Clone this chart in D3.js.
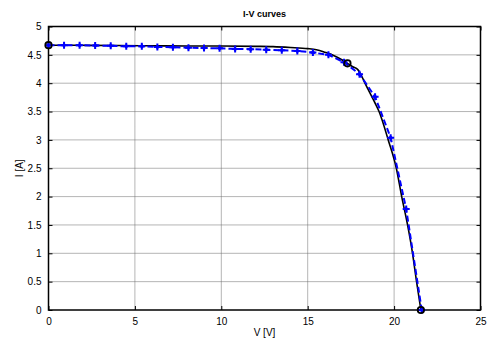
<!DOCTYPE html>
<html>
<head>
<meta charset="utf-8">
<script src="https://cdn.jsdelivr.net/npm/d3@7"></script>
<style>
  body { margin: 0; background: #fff; }
  svg { display: block; font-family: "Liberation Sans", Arial, sans-serif; }
</style>
</head>
<body>
<svg id="chart" width="487" height="340"></svg>
<script>
// measured (blue, dashed with markers)
const measV = [0, 0.9, 1.8, 2.7, 3.6, 4.5, 5.4, 6.3, 7.2, 8.1, 9.0, 9.9, 10.8, 11.7, 12.6, 13.5, 14.4, 15.3, 16.2, 17.1, 18.0, 18.9, 19.8, 20.7, 21.6]
const measI = [4.67, 4.67, 4.67, 4.665, 4.66, 4.65, 4.65, 4.64, 4.635, 4.625, 4.62, 4.615, 4.605, 4.60, 4.59, 4.58, 4.57, 4.54, 4.50, 4.37, 4.16, 3.76, 3.04, 1.78, 0]

// model curve (black, solid)
const modelV = [0, 2, 4, 6, 8, 10, 12, 13, 14, 15, 15.5, 16, 16.5, 17, 17.3, 17.6, 17.9, 18.1, 18.35, 18.85, 19.13, 19.66, 20.13, 20.44, 20.78, 21.04, 21.3, 21.55]
const modelI = [4.67, 4.668, 4.665, 4.66, 4.655, 4.655, 4.65, 4.645, 4.63, 4.61, 4.59, 4.545, 4.49, 4.41, 4.35, 4.29, 4.24, 4.14, 3.98, 3.68, 3.5, 3.0, 2.5, 2.0, 1.5, 1.05, 0.5, 0]

// key points (open circles): Isc, MPP, Voc
const keyV = [0, 17.3, 21.55]
const keyI = [4.67, 4.35, 0]

const xTicks = [0, 5, 10, 15, 20, 25]
const yTicks = [0, 0.5, 1, 1.5, 2, 2.5, 3, 3.5, 4, 4.5, 5]

const svg = d3.select("#chart")
const m = { left: 48.5, top: 26.5, right: 487 - 480.5, bottom: 340 - 310 }
const w = 487 - m.left - m.right
const h = 340 - m.top - m.bottom

const x = d3.scaleLinear().domain([0, 25]).range([0, w])
const y = d3.scaleLinear().domain([0, 5]).range([h, 0])

const g = svg.append("g").attr("transform", "translate(" + [m.left, m.top] + ")")

// grid
g.append("g").selectAll("line").data(xTicks.slice(1, -1)).enter().append("line")
  .attr("x1", d => x(d)).attr("x2", d => x(d)).attr("y1", 0).attr("y2", h)
  .attr("stroke", "#6a6a6a").attr("stroke-width", 1).attr("stroke-dasharray", "1,1")
g.append("g").selectAll("line").data(yTicks.slice(1, -1)).enter().append("line")
  .attr("y1", d => y(d)).attr("y2", d => y(d)).attr("x1", 0).attr("x2", w)
  .attr("stroke", "#6a6a6a").attr("stroke-width", 1).attr("stroke-dasharray", "1,1")

// axes (ticks inward, mirrored)
function styleAxis(sel) {
  sel.select(".domain").remove()
  sel.selectAll(".tick line").attr("stroke", "#000")
  sel.selectAll(".tick text").attr("fill", "#000").style("font-size", "10px")
}
g.append("g").attr("transform", "translate(0," + h + ")")
  .call(d3.axisBottom(x).tickValues(xTicks).tickSizeInner(-4).tickSizeOuter(0).tickPadding(8))
  .call(styleAxis)
g.append("g")
  .call(d3.axisLeft(y).tickValues(yTicks).tickSizeInner(-4).tickSizeOuter(0).tickPadding(7).tickFormat(d3.format("")))
  .call(styleAxis)
g.append("g")
  .call(d3.axisTop(x).tickValues(xTicks).tickSizeInner(-4).tickSizeOuter(0).tickFormat(""))
  .call(styleAxis)
g.append("g").attr("transform", "translate(" + w + ",0)")
  .call(d3.axisRight(y).tickValues(yTicks).tickSizeInner(-4).tickSizeOuter(0).tickFormat(""))
  .call(styleAxis)

g.append("rect").attr("width", w).attr("height", h)
  .attr("fill", "none").attr("stroke", "#000").attr("stroke-width", 1.5)

// model curve
const model = modelV.map((v, i) => ({ v: v, i: modelI[i] }))
g.append("path").datum(model)
  .attr("fill", "none").attr("stroke", "#000").attr("stroke-width", 1.6)
  .attr("d", d3.line().x(d => x(d.v)).y(d => y(d.i)).curve(d3.curveMonotoneX))

// measured
const meas = measV.map((v, i) => ({ v: v, i: measI[i] }))
g.append("path").datum(meas)
  .attr("fill", "none").attr("stroke", "#0000ff").attr("stroke-width", 2)
  .attr("stroke-dasharray", "6,3")
  .attr("d", d3.line().x(d => x(d.v)).y(d => y(d.i)))

const mk = g.append("g").selectAll("g").data(meas).enter().append("g")
  .attr("transform", d => "translate(" + [x(d.v), y(d.i)] + ")")
mk.append("path").attr("d", "M-3.5,0H3.5M0,-3.5V3.5")
  .attr("stroke", "#0000ff").attr("stroke-width", 2)
mk.append("path").attr("d", "M0,-2.5L2.5,0L0,2.5L-2.5,0Z").attr("fill", "#0000ff")

// key points
g.append("g").selectAll("circle").data(keyV).enter().append("circle")
  .attr("cx", d => x(d)).attr("cy", (d, i) => y(keyI[i])).attr("r", 3.2)
  .attr("fill", "none").attr("stroke", "#000").attr("stroke-width", 1.8)

// labels
svg.append("text").attr("x", m.left + w / 2).attr("y", 17)
  .attr("text-anchor", "middle").style("font-size", "9px").style("font-weight", "bold")
  .text("I-V curves")
svg.append("text").attr("x", m.left + w / 2).attr("y", 336)
  .attr("text-anchor", "middle").style("font-size", "10px")
  .text("V [V]")
svg.append("text").attr("transform", "translate(23," + (m.top + h / 2) + ") rotate(-90)")
  .attr("text-anchor", "middle").style("font-size", "10px")
  .text("I [A]")
</script>
</body>
</html>
